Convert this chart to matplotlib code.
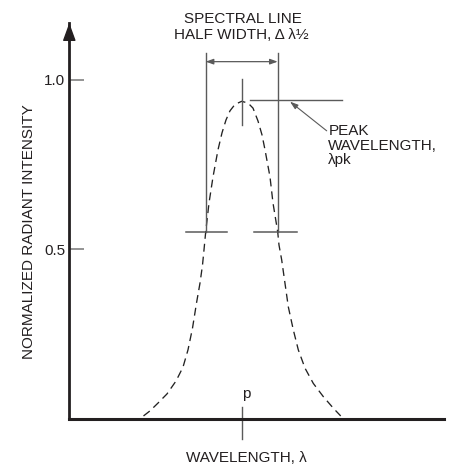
import numpy as np
import matplotlib
matplotlib.use("Agg")
import matplotlib.pyplot as plt

plt.rcParams["font.family"] = ["Liberation Sans", "DejaVu Sans"]

# emission curve, wavelength offset from the peak (arbitrary units) vs normalized intensity
wavelength = [-9.82, -9.17, -8.37, -7.47, -6.57, -5.87, -5.37, -4.92, -4.52, -4.17,
              -3.92, -3.77, -3.60, -3.27, -2.87, -2.37, -1.97, -1.57, -1.17, -0.67,
              0.0, 0.63, 1.13, 1.63, 2.03, 2.33, 2.83, 3.13, 3.60, 3.73,
              4.00, 4.33, 4.66, 5.16, 5.66, 6.33, 7.16, 8.16, 9.16, 9.90]
intensity = [0.009, 0.024, 0.047, 0.074, 0.112, 0.153, 0.204, 0.268, 0.342, 0.401,
             0.454, 0.499, 0.552, 0.637, 0.714, 0.794, 0.844, 0.882, 0.909, 0.928,
             0.937, 0.932, 0.917, 0.879, 0.838, 0.794, 0.714, 0.637, 0.552, 0.513,
             0.469, 0.400, 0.331, 0.263, 0.204, 0.150, 0.105, 0.066, 0.032, 0.009]

peak_value = 0.941
half_level = 0.552
half_left, half_right = -3.60, 3.60

ytick_values = [0.5, 1.0]
ytick_labels = ["0.5", "1.0"]

AXIS = "#231f20"
THIN = "#5a5a5a"
TEXT = "#231f20"
FS = 11

fig = plt.figure(figsize=(4.63, 4.66), dpi=100)
ax = fig.add_axes([69.3 / 463, 47 / 466, 375 / 463, 396 / 466])
ax.set_xlim(-17.24, 20.26)
ax.set_ylim(0, 1.168)

for s in ["top", "right"]:
    ax.spines[s].set_visible(False)
ax.spines["bottom"].set_linewidth(2.2)
ax.spines["bottom"].set_color(AXIS)
ax.spines["left"].set_linewidth(2.0)
ax.spines["left"].set_color(AXIS)
ax.annotate("", xy=(0, 1), xycoords="axes fraction", xytext=(0, 0.95),
            arrowprops=dict(arrowstyle="-|>,head_length=0.55,head_width=0.2",
                            mutation_scale=20, lw=1, color=AXIS,
                            shrinkA=0, shrinkB=0))

ax.set_xticks([])
ax.set_yticks(ytick_values)
ax.set_yticklabels(ytick_labels, fontsize=FS, color=TEXT)
ax.tick_params(axis="y", direction="in", length=10.8, width=1.1, color="#777777", pad=3)

# the curve
ax.plot(wavelength, intensity, color="#222222", lw=0.95, ls=(0, (6, 3.8)))

# half width markers
ax.plot([half_left, half_left], [half_level, 1.079], color=THIN, lw=1)
ax.plot([half_right, half_right], [half_level, 1.079], color=THIN, lw=1)
ax.plot([-5.6, -1.44], [half_level, half_level], color=THIN, lw=1.1)
ax.plot([1.23, 5.56], [half_level, half_level], color=THIN, lw=1.1)
ax.annotate("", xy=(half_left, 1.054), xytext=(half_right, 1.054),
            arrowprops=dict(arrowstyle="<|-|>,head_length=0.5,head_width=0.18",
                            mutation_scale=9, lw=0.9, color=THIN,
                            shrinkA=0, shrinkB=0))

# peak markers
ax.plot([0, 0], [0.867, 1.003], color=THIN, lw=1)
ax.plot([0.83, 10.0], [peak_value, peak_value], color=THIN, lw=1)
ax.annotate("", xy=(4.83, 0.936), xytext=(8.5, 0.850),
            arrowprops=dict(arrowstyle="-|>,head_length=0.6,head_width=0.2",
                            mutation_scale=8, lw=0.8, color=THIN,
                            shrinkA=0, shrinkB=0))
ax.plot([0, 0], [0.036, -0.059], color=THIN, lw=1, clip_on=False)

# labels
ax.text(8.66, 0.838, "PEAK", fontsize=FS, color=TEXT, va="baseline")
ax.text(8.66, 0.794, "WAVELENGTH,", fontsize=FS, color=TEXT, va="baseline")
ax.text(8.66, 0.752, "λpk", fontsize=FS, color=TEXT, va="baseline")
ax.text(0.08, 1.169, "SPECTRAL LINE", fontsize=FS, color=TEXT, ha="center",
        va="baseline", clip_on=False)
ax.text(-0.02, 1.12, "HALF WIDTH, Δ λ½", fontsize=FS, color=TEXT, ha="center",
        va="baseline", clip_on=False)
ax.text(0.06, 0.062, "p", fontsize=FS, color=TEXT, va="baseline")
ax.text(0.5, -0.127, "WAVELENGTH, λ", fontsize=FS, color=TEXT, ha="center",
        va="baseline", clip_on=False)
ax.text(-0.1075, 0.553, "NORMALIZED RADIANT INTENSITY", fontsize=FS, color=TEXT,
        rotation=90, ha="center", va="center", transform=ax.get_yaxis_transform(),
        clip_on=False)

fig.savefig("out.png", dpi=100)
